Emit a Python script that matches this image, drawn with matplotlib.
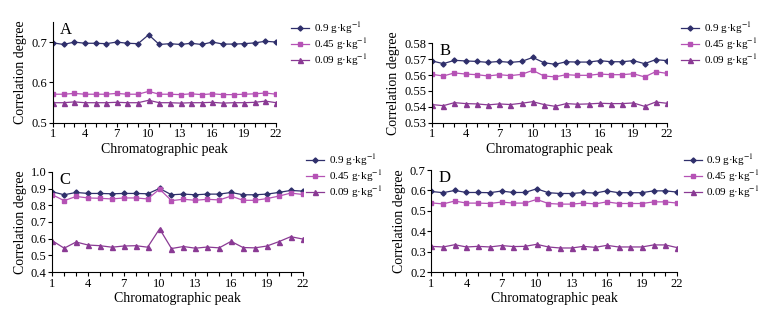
import matplotlib
matplotlib.use("Agg")
from matplotlib import pyplot as plt

plt.rcParams['font.family'] = ['Liberation Serif', 'DejaVu Serif']
plt.rcParams['mathtext.fontset'] = 'stix'

peaks = list(range(1, 23))
labels = ["0.9 g·kg$^{-1}$", "0.45 g·kg$^{-1}$", "0.09 g·kg$^{-1}$"]

# panel A
a_hi = [0.698, 0.694, 0.700, 0.697, 0.697, 0.696, 0.700, 0.697, 0.696, 0.718, 0.694,
        0.696, 0.694, 0.697, 0.694, 0.700, 0.695, 0.695, 0.696, 0.698, 0.702, 0.700]
a_mid = [0.571, 0.571, 0.573, 0.571, 0.571, 0.571, 0.573, 0.571, 0.571, 0.578, 0.571,
         0.571, 0.570, 0.572, 0.570, 0.572, 0.570, 0.570, 0.571, 0.572, 0.574, 0.571]
a_lo = [0.550, 0.550, 0.552, 0.550, 0.550, 0.550, 0.551, 0.550, 0.550, 0.556, 0.550,
        0.550, 0.549, 0.550, 0.550, 0.551, 0.549, 0.550, 0.550, 0.551, 0.554, 0.550]

# panel B
b_hi = [0.5688, 0.5671, 0.5692, 0.5688, 0.5685, 0.5679, 0.5685, 0.5679, 0.5685, 0.5710, 0.5677,
        0.5667, 0.5683, 0.5681, 0.5681, 0.5690, 0.5683, 0.5683, 0.5690, 0.5671, 0.5696, 0.5690]
b_mid = [0.5604, 0.5594, 0.5613, 0.5606, 0.5602, 0.5594, 0.5602, 0.5596, 0.5604, 0.5629, 0.5594,
         0.5588, 0.5602, 0.5598, 0.5598, 0.5606, 0.5602, 0.5602, 0.5608, 0.5588, 0.5621, 0.5610]
b_lo = [0.5415, 0.5408, 0.5427, 0.5421, 0.5419, 0.5413, 0.5419, 0.5415, 0.5423, 0.5433, 0.5415,
        0.5404, 0.5421, 0.5417, 0.5419, 0.5423, 0.5421, 0.5421, 0.5425, 0.5404, 0.5431, 0.5423]

# panel C
c_hi = [0.881, 0.863, 0.877, 0.871, 0.871, 0.869, 0.871, 0.871, 0.869, 0.901, 0.863,
        0.867, 0.863, 0.867, 0.867, 0.877, 0.863, 0.863, 0.867, 0.877, 0.889, 0.885]
c_mid = [0.863, 0.828, 0.853, 0.844, 0.842, 0.838, 0.844, 0.844, 0.838, 0.897, 0.828,
         0.836, 0.830, 0.836, 0.832, 0.855, 0.830, 0.830, 0.840, 0.855, 0.873, 0.865]
c_lo = [0.588, 0.543, 0.580, 0.562, 0.558, 0.549, 0.556, 0.558, 0.549, 0.659, 0.541,
        0.553, 0.543, 0.550, 0.545, 0.584, 0.547, 0.545, 0.556, 0.582, 0.612, 0.598]

# panel D
d_hi = [0.595, 0.589, 0.600, 0.590, 0.590, 0.589, 0.597, 0.590, 0.590, 0.608, 0.589,
        0.585, 0.585, 0.590, 0.587, 0.598, 0.589, 0.589, 0.589, 0.598, 0.598, 0.592]
d_mid = [0.539, 0.534, 0.548, 0.538, 0.538, 0.536, 0.543, 0.538, 0.538, 0.556, 0.536,
         0.533, 0.533, 0.538, 0.534, 0.544, 0.536, 0.536, 0.536, 0.544, 0.544, 0.538]
d_lo = [0.326, 0.323, 0.334, 0.323, 0.326, 0.323, 0.330, 0.325, 0.326, 0.336, 0.323,
        0.318, 0.318, 0.326, 0.321, 0.331, 0.323, 0.323, 0.323, 0.333, 0.333, 0.320]

colors = ["#2f2f6b", "#b552b5", "#8a3a94"]
markers = ["D", "s", "^"]
msizes = [2.6, 3.4, 3.6]

panels = [
    ("A", [a_hi, a_mid, a_lo], (0.5, 0.75), [0.5, 0.6, 0.7], "%.1f",
     [0.068, 0.606, 0.286, 0.324], (0.368, 0.95)),
    ("B", [b_hi, b_mid, b_lo], (0.53, 0.58), [0.53, 0.54, 0.55, 0.56, 0.57, 0.58], "%.2f",
     [0.554, 0.606, 0.301, 0.256], (0.868, 0.95)),
    ("C", [c_hi, c_mid, c_lo], (0.4, 1.0), [0.4, 0.5, 0.6, 0.7, 0.8, 0.9, 1.0], "%.1f",
     [0.067, 0.128, 0.321, 0.321], (0.387, 0.525)),
    ("D", [d_hi, d_mid, d_lo], (0.2, 0.7), [0.2, 0.3, 0.4, 0.5, 0.6, 0.7], "%.1f",
     [0.553, 0.128, 0.315, 0.327], (0.871, 0.525)),
]

fig = plt.figure(figsize=(7.8, 3.12), dpi=100)

for name, series, ylim, yticks, fmt, rect, legpos in panels:
    ax = fig.add_axes(rect)
    for vals, c, m, ms, lab in zip(series, colors, markers, msizes, labels):
        ax.plot(peaks, vals, color=c, marker=m, markersize=ms, linewidth=0.9, label=lab)
    ax.set_xlim(1, 22)
    ax.set_ylim(*ylim)
    ax.set_xticks(range(1, 23, 3))
    ax.set_xticks(peaks, minor=True)
    ax.set_yticks(yticks)
    ax.set_yticklabels([fmt % t for t in yticks])
    ax.spines['top'].set_visible(False)
    ax.spines['right'].set_visible(False)
    ax.tick_params(labelsize=9, length=3, width=0.8, pad=1)
    ax.tick_params(which='minor', length=3, width=0.8)
    ax.set_xlabel("Chromatographic peak", fontsize=10, labelpad=2)
    ax.set_ylabel("Correlation degree", fontsize=10, labelpad=3)
    ax.text(0.03, 1.0, name, transform=ax.transAxes, fontsize=12, va='top', ha='left')
    ax.legend(loc='upper left', bbox_to_anchor=legpos, bbox_transform=fig.transFigure,
              frameon=False, fontsize=8, handlelength=1.6, handletextpad=0.4,
              labelspacing=0.0, borderaxespad=0)

fig.savefig("out.png", dpi=100)
